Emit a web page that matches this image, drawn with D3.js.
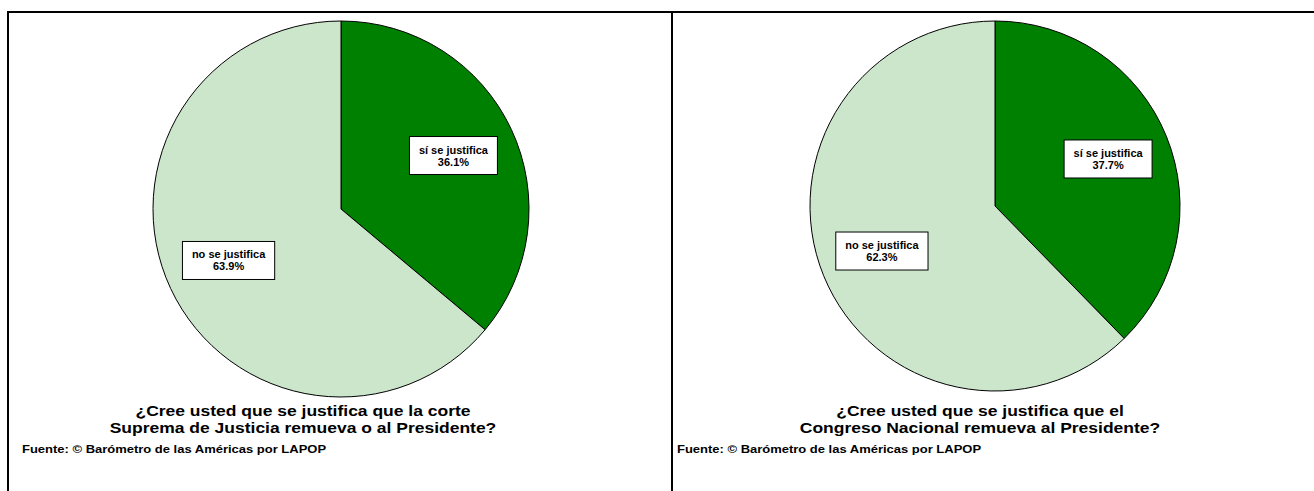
<!DOCTYPE html>
<html>
<head>
<meta charset="utf-8">
<script src="https://cdn.jsdelivr.net/npm/d3@7"></script>
<style>
  html, body { margin: 0; padding: 0; background: #fff; }
  svg { display: block; }
</style>
</head>
<body>
<svg id="chart" width="1314" height="491"></svg>
<script>
// ---- data ----
const categories = ["sí se justifica", "no se justifica"];
const valuesCorte = [36.1, 63.9];
const valuesCongreso = [37.7, 62.3];
const titleCorte = ["¿Cree usted que se justifica que la corte", "Suprema de Justicia remueva o al Presidente?"];
const titleCongreso = ["¿Cree usted que se justifica que el", "Congreso Nacional remueva al Presidente?"];
const sourceText = "Fuente: © Barómetro de las Américas por LAPOP";

// ---- style ----
const colors = d3.scaleOrdinal().domain(categories).range(["#008000", "#cce6cc"]);
const FONT = "'Liberation Sans', Arial, sans-serif";

const svg = d3.select("#chart");

// panel frame lines
svg.append("line").attr("x1", 8).attr("x2", 1314).attr("y1", 12).attr("y2", 12)
  .attr("stroke", "#000").attr("stroke-width", 2);
svg.append("line").attr("x1", 8).attr("x2", 8).attr("y1", 11).attr("y2", 491)
  .attr("stroke", "#000").attr("stroke-width", 2);
svg.append("line").attr("x1", 672).attr("x2", 672).attr("y1", 11).attr("y2", 491)
  .attr("stroke", "#000").attr("stroke-width", 2);

const panels = [
  { values: valuesCorte, cx: 341, cy: 209, r: 188, title: titleCorte, tx: 303, ty: 416, sx: 22, sy: 453 },
  { values: valuesCongreso, cx: 995, cy: 206, r: 185, title: titleCongreso, tx: 980, ty: 416, sx: 677, sy: 453 }
];

const pie = d3.pie().sort(null).value(d => d.value);

panels.forEach(p => {
  const data = categories.map((c, i) => ({ cat: c, value: p.values[i] }));
  const arcs = pie(data);
  const arc = d3.arc().innerRadius(0).outerRadius(p.r);
  const labelArc = d3.arc().innerRadius(p.r * 0.66).outerRadius(p.r * 0.66);

  const g = svg.append("g").attr("transform", `translate(${p.cx},${p.cy})`);
  g.selectAll("path.slice").data(arcs).join("path")
    .attr("class", "slice")
    .attr("d", arc)
    .attr("fill", d => colors(d.data.cat))
    .attr("stroke", "#000")
    .attr("stroke-width", 1);

  const lab = g.selectAll("g.lab").data(arcs).join("g")
    .attr("class", "lab")
    .attr("transform", d => `translate(${labelArc.centroid(d)})`);

  lab.each(function(d) {
    const el = d3.select(this);
    const rect = el.append("rect");
    const t = el.append("text")
      .attr("text-anchor", "middle")
      .attr("font-family", FONT)
      .attr("font-weight", "bold")
      .attr("font-size", 11)
      .attr("fill", "#000");
    t.append("tspan").attr("x", 0).attr("y", -3).text(d.data.cat);
    t.append("tspan").attr("x", 0).attr("y", 9).text(d3.format(".1f")(d.data.value) + "%");
    const bb = t.node().getBBox();
    const w = bb.width + 18, h = 38;
    rect.attr("x", -w / 2).attr("y", -h / 2 - 1).attr("width", w).attr("height", h)
      .attr("fill", "#fff").attr("stroke", "#000").attr("stroke-width", 1);
  });

  const title = svg.append("text")
    .attr("transform", `translate(${p.tx},${p.ty}) scale(1.166,1)`)
    .attr("text-anchor", "middle")
    .attr("font-family", FONT)
    .attr("font-weight", "bold")
    .attr("font-size", 15)
    .attr("fill", "#000");
  p.title.forEach((line, i) => {
    title.append("tspan").attr("x", 0).attr("y", i * 17).text(line);
  });

  svg.append("text")
    .attr("transform", `translate(${p.sx},${p.sy}) scale(1.3,1)`)
    .attr("font-family", FONT)
    .attr("font-weight", "bold")
    .attr("font-size", 10)
    .attr("fill", "#000")
    .text(sourceText);
});
</script>
</body>
</html>
